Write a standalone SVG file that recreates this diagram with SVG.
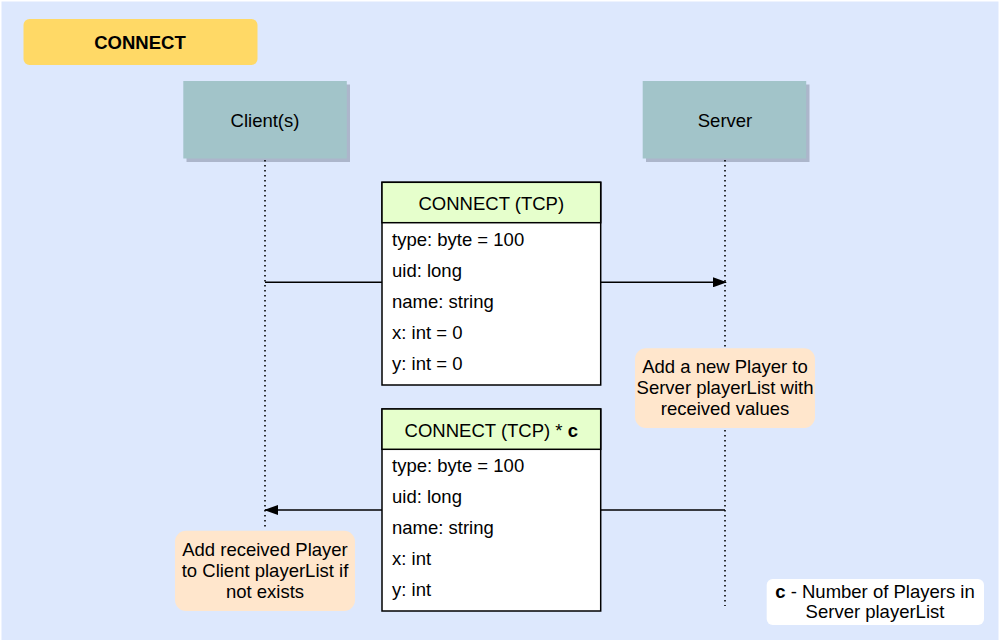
<svg xmlns="http://www.w3.org/2000/svg" width="1003" height="644" viewBox="0 0 1003 644">
<style>
text{font-family:"Liberation Sans",Arial,Helvetica,sans-serif;font-size:18.5px;fill:#000}
.c{text-anchor:middle}
.b{font-weight:bold}
.actor{fill:#a2c4c9}
.shadow{fill:#3c4258;opacity:0.3}
.tbl{fill:#ffffff;stroke:#000;stroke-width:1.5}
.hdr{fill:#e6ffcc;stroke:#000;stroke-width:1.5}
.note{fill:#ffe6cc}
.life{stroke:#000;stroke-width:1.6;stroke-dasharray:1.6 3.4;fill:none}
.msg{stroke:#000;stroke-width:1.5;fill:none}
</style>
<defs>
<marker id="ah" viewBox="0 0 14 10" refX="13" refY="5" markerWidth="14" markerHeight="10" markerUnits="userSpaceOnUse" orient="auto">
<path d="M0,0 L14,5 L0,10 Z" fill="#000"/>
</marker>
</defs>
<rect x="1.5" y="1.5" width="997" height="638.5" fill="#dde8fd"/>
<g id="title">
<rect x="23.5" y="19" width="234" height="46" rx="6" fill="#ffd966"/>
<text class="c b" x="140" y="49">CONNECT</text>
</g>
<g id="client">
<rect class="shadow" x="186.5" y="84.5" width="163.5" height="77.5"/>
<rect class="actor" x="183.3" y="81" width="163.5" height="77.5"/>
<text class="c" x="265" y="127">Client(s)</text>
</g>
<g id="server">
<rect class="shadow" x="646" y="84.5" width="163.5" height="77.5"/>
<rect class="actor" x="642.7" y="81" width="163.5" height="77.5"/>
<text class="c" x="725" y="127">Server</text>
</g>
<g id="connectors">
<line class="life" x1="265" y1="160" x2="265" y2="527"/>
<line class="life" x1="725" y1="160" x2="725" y2="606"/>
<line class="msg" x1="265" y1="282.3" x2="382" y2="282.3"/>
<line class="msg" x1="600.7" y1="282.3" x2="726" y2="282.3" marker-end="url(#ah)"/>
<line class="msg" x1="725" y1="510" x2="600.7" y2="510"/>
<line class="msg" x1="382" y1="510" x2="265" y2="510" marker-end="url(#ah)"/>
</g>
<g id="msg1">
<rect class="tbl" x="382" y="182.3" width="218.7" height="202.7"/>
<rect class="hdr" x="382" y="182.3" width="218.7" height="40.4"/>
<text class="c" x="491.3" y="210">CONNECT (TCP)</text>
<text x="392" y="246">type: byte = 100</text>
<text x="392" y="277">uid: long</text>
<text x="392" y="308">name: string</text>
<text x="392" y="339">x: int = 0</text>
<text x="392" y="370">y: int = 0</text>
</g>
<g id="note1">
<rect class="note" x="635" y="348.3" width="180" height="79.7" rx="11"/>
<text class="c" x="725" y="373">Add a new Player to</text>
<text class="c" x="725" y="394">Server playerList with</text>
<text class="c" x="725" y="415">received values</text>
</g>
<g id="msg2">
<rect class="tbl" x="382" y="409" width="218.7" height="202"/>
<rect class="hdr" x="382" y="409" width="218.7" height="40.3"/>
<text class="c" x="491.3" y="437">CONNECT (TCP) * <tspan class="b">c</tspan></text>
<text x="392" y="472">type: byte = 100</text>
<text x="392" y="503">uid: long</text>
<text x="392" y="534">name: string</text>
<text x="392" y="565">x: int</text>
<text x="392" y="596">y: int</text>
</g>
<g id="note2">
<rect class="note" x="175" y="530.7" width="180" height="80.3" rx="11"/>
<text class="c" x="265" y="556">Add received Player</text>
<text class="c" x="265" y="577">to Client playerList if</text>
<text class="c" x="265" y="598">not exists</text>
</g>
<g id="legend">
<rect x="766.7" y="579" width="217.3" height="46" rx="6" fill="#ffffff"/>
<text class="c" x="875" y="598"><tspan class="b">c</tspan> - Number of Players in</text>
<text class="c" x="875" y="618">Server playerList</text>
</g>
</svg>
